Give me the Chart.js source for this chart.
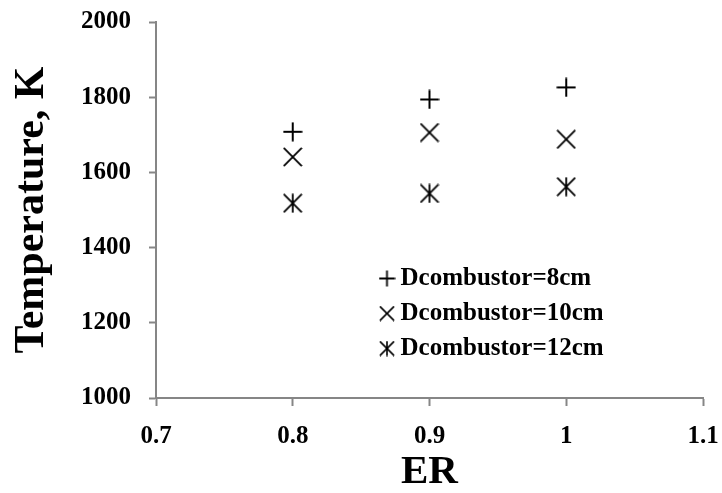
<!DOCTYPE html>
<html>
<head>
<meta charset="utf-8">
<script src="https://cdn.jsdelivr.net/npm/chart.js@4.4.1/dist/chart.umd.min.js"></script>
<style>
  html, body { margin: 0; padding: 0; background: #fff; }
  #wrap { width: 722px; height: 493px; position: relative; }
</style>
</head>
<body>
<div id="wrap"><canvas id="chart"></canvas></div>
<script>
// data
const erValues = [0.8, 0.9, 1.0];
const seriesLabels = ["Dcombustor=8cm", "Dcombustor=10cm", "Dcombustor=12cm"];
const temp8cm = [1708, 1794, 1826];
const temp10cm = [1641, 1706, 1688];
const temp12cm = [1518, 1544, 1562];
const xTicks = [0.7, 0.8, 0.9, 1, 1.1];
const yTicks = [1000, 1200, 1400, 1600, 1800, 2000];

const AXIS = "#868686";
const FONT = "'Liberation Serif', 'Times New Roman', serif";

// plus / x / asterisk markers as small canvases
function markerCanvas(kind, size, lw) {
  const c = document.createElement("canvas");
  c.width = size;
  c.height = size;
  const g = c.getContext("2d");
  const m = size / 2, r = size / 2 - 0.5;
  g.strokeStyle = "#000";
  g.lineWidth = lw;
  g.beginPath();
  if (kind === "plus") {
    g.moveTo(m, m - r); g.lineTo(m, m + r);
    g.moveTo(m - r, m); g.lineTo(m + r, m);
  }
  if (kind === "x" || kind === "star") {
    const d = r * 0.95;
    g.moveTo(m - d, m - d); g.lineTo(m + d, m + d);
    g.moveTo(m + d, m - d); g.lineTo(m - d, m + d);
  }
  if (kind === "star") {
    g.moveTo(m, m - r); g.lineTo(m, m + r);
  }
  g.stroke();
  return c;
}

const plotMarks = [markerCanvas("plus", 20, 2), markerCanvas("x", 20, 1.8), markerCanvas("star", 20, 1.8)];
const legendMarks = [markerCanvas("plus", 17, 1.8), markerCanvas("x", 16, 1.6), markerCanvas("star", 16, 1.6)];

const toPoints = (ys) => erValues.map((x, i) => ({ x, y: ys[i] }));

// park the legend inside the plot area
const legendSpot = {
  id: "legendSpot",
  afterLayout(chart) {
    const lg = chart.legend;
    lg.left = 376;
    lg.top = 256;
    lg.right = lg.left + lg.width;
    lg.bottom = lg.top + lg.height;
  },
};

new Chart(document.getElementById("chart"), {
  type: "scatter",
  data: {
    datasets: [temp8cm, temp10cm, temp12cm].map((ys, i) => ({
      label: seriesLabels[i],
      data: toPoints(ys),
      pointStyle: plotMarks[i],
      pointRadius: 10,
      borderColor: "#000",
      backgroundColor: "#000",
    })),
  },
  options: {
    responsive: true,
    maintainAspectRatio: false,
    animation: false,
    layout: { padding: { left: 0, right: 19, top: 22, bottom: 0 } },
    plugins: {
      tooltip: { enabled: false },
      legend: {
        position: "chartArea",
        align: "start",
        labels: {
          usePointStyle: true,
          pointStyleWidth: 2,
          padding: 10,
          color: "#000",
          font: { family: FONT, size: 25, weight: "bold" },
          generateLabels: (chart) =>
            chart.data.datasets.map((ds, i) => ({
              text: ds.label,
              pointStyle: legendMarks[i],
              fillStyle: "#000",
              strokeStyle: "#000",
              fontColor: "#000",
              lineWidth: 0,
              hidden: false,
              datasetIndex: i,
            })),
        },
      },
    },
    scales: {
      x: {
        type: "linear",
        min: 0.7,
        max: 1.1,
        afterBuildTicks: (s) => { s.ticks = xTicks.map((v) => ({ value: v })); },
        afterFit: (s) => { s.height = 95; s.paddingLeft = 0; s.paddingRight = 0; },
        ticks: {
          color: "#000",
          padding: 16,
          font: { family: FONT, size: 25, weight: "bold" },
          callback: (v) => String(v),
        },
        grid: { drawOnChartArea: false, drawTicks: true, tickLength: 8, tickColor: AXIS, tickWidth: 2 },
        border: { display: true, color: AXIS, width: 2 },
        title: {
          display: true,
          text: "ER",
          color: "#000",
          font: { family: FONT, size: 41, weight: "bold", lineHeight: 1 },
          padding: { top: 0, bottom: 0 },
        },
      },
      y: {
        min: 1000,
        max: 2000,
        afterBuildTicks: (s) => { s.ticks = yTicks.map((v) => ({ value: v })); },
        afterFit: (s) => { s.width = 156; s.paddingTop = 0; s.paddingBottom = 0; },
        ticks: {
          color: "#000",
          padding: 18,
          font: { family: FONT, size: 25, weight: "bold" },
          callback: (v) => String(v),
        },
        grid: { drawOnChartArea: false, drawTicks: true, tickLength: 7, tickColor: AXIS, tickWidth: 2 },
        border: { display: true, color: AXIS, width: 2 },
        title: {
          display: true,
          text: "Temperature, K",
          color: "#000",
          font: { family: FONT, size: 42, weight: "bold" },
          padding: { top: 7, bottom: 0 },
        },
      },
    },
  },
  plugins: [legendSpot],
});
</script>
</body>
</html>
